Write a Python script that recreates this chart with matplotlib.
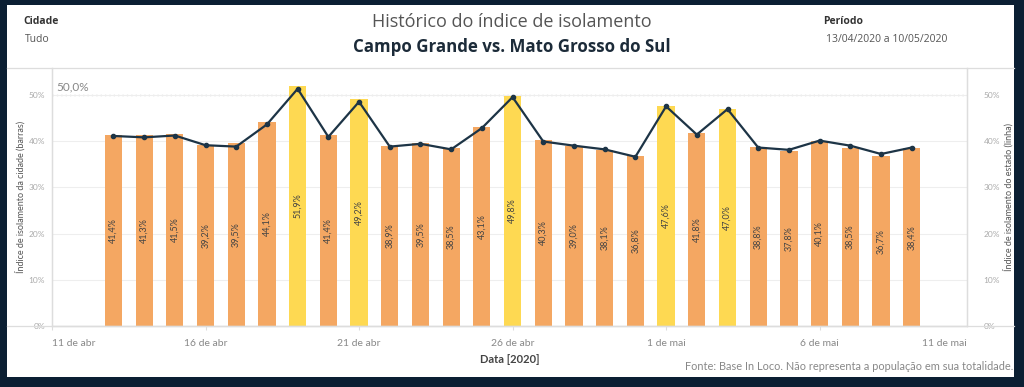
import pandas as pd
import numpy as np
import matplotlib
matplotlib.use("Agg")
import matplotlib.pyplot as plt
from matplotlib.patches import Rectangle
from matplotlib.lines import Line2D

# Isolation index, 13/04/2020 onwards (one value per day)
start_date = "2020-04-13"
city_pct = [41.4, 41.3, 41.5, 39.2, 39.5, 44.1, 51.9, 41.4, 49.2, 38.9, 39.5, 38.5, 43.1, 49.8,
            40.3, 39.0, 38.1, 36.8, 47.6, 41.8, 47.0, 38.8, 37.8, 40.1, 38.5, 36.7, 38.4]
state_pct = [41.1, 40.8, 41.2, 39.1, 38.8, 43.6, 51.3, 40.9, 48.5, 38.8, 39.4, 38.2, 42.8, 49.5,
             39.9, 39.0, 38.2, 36.6, 47.5, 41.4, 46.9, 38.6, 38.1, 40.1, 39.0, 37.2, 38.6]
# Sundays and holidays are highlighted in yellow
highlight = [0, 0, 0, 0, 0, 0, 1, 0, 1, 0, 0, 0, 0, 1, 0, 0, 0, 0, 1, 0, 1, 0, 0, 0, 0, 0, 0]
tick_dates = ["2020-04-11", "2020-04-16", "2020-04-21", "2020-04-26", "2020-05-01", "2020-05-06"]
months_pt = {4: "abr", 5: "mai"}
y_ticks = [0, 10, 20, 30, 40, 50]
ref_level = 50.0

dates = pd.date_range(start_date, periods=len(city_pct))
x = matplotlib.dates.date2num(dates)

orange = "#F4A762"
yellow = "#FED952"
navy = "#1D3446"
plt.rcParams['font.family'] = ['Lato', 'DejaVu Sans']

fig = plt.figure(figsize=(10.24, 3.87), dpi=100)
fig.patch.set_facecolor("#0B1F33")
fig.patches.append(Rectangle((7 / 1024, 1 - 377 / 387), 1007 / 1024, 372 / 387,
                             transform=fig.transFigure, facecolor="white", edgecolor="none", zorder=-5))

ax = fig.add_axes([52 / 1024, 1 - 326 / 387, 915 / 1024, 258 / 387])
ax.set_facecolor("white")
colors = [yellow if h else orange for h in highlight]
ax.bar(x, city_pct, width=0.56, color=colors, zorder=2)
for xi, v in zip(x, city_pct):
    ax.text(xi, v / 2, f"{v:.1f}%".replace(".", ","), rotation=90, ha="center", va="center",
            fontsize=6.5, color="#444444", zorder=3)

ax.set_ylim(0, 55.8)
ax.set_xlim(matplotlib.dates.date2num(pd.Timestamp("2020-04-11")),
            matplotlib.dates.date2num(pd.Timestamp("2020-04-11")) + 29.8)
ax.set_yticks(y_ticks)
ax.set_yticklabels([f"{t}%" for t in y_ticks], fontsize=6, color="#aaaaaa")
ax.grid(axis="y", color="#eeeeee", linewidth=0.8, zorder=0)
ax.axhline(ref_level, color="#aaaaaa", linestyle=(0, (1, 2.5)), linewidth=0.9, zorder=1)
ax.text(0.005, ref_level + 0.6, "50,0%", transform=ax.get_yaxis_transform(), fontsize=8.5,
        color="#888888", va="bottom", ha="left")

tks = matplotlib.dates.date2num(pd.to_datetime(tick_dates))
ax.set_xticks(tks)
lbls = ax.set_xticklabels([f"{d.day} de {months_pt[d.month]}" for d in pd.to_datetime(tick_dates)],
                          fontsize=7.5, color="#888888")
lbls[0].set_ha("left")
ax.tick_params(axis="x", length=3, color="#dddddd", pad=6)
ax.tick_params(axis="y", length=0, pad=5)
# last date label sits at the right edge, as in the original dashboard
ax.annotate("11 de mai", xy=(1.0, 0.0), xycoords="axes fraction", xytext=(0, -9),
            textcoords="offset points", ha="right", va="top", fontsize=7.5, color="#888888")

ax.spines["top"].set_visible(False)
for s in ["left", "right", "bottom"]:
    ax.spines[s].set_color("#dddddd")
    ax.spines[s].set_linewidth(0.9)
ax.set_ylabel("Índice de isolamento da cidade (barras)", fontsize=6.5, color="#555555", labelpad=2)
ax.set_xlabel("Data [2020]", fontsize=8, color="#444444", fontweight="bold", labelpad=5)

ax2 = ax.twinx()
ax2.set_ylim(0, 55.8)
ax2.plot(x, state_pct, color=navy, linewidth=1.6, marker="o", markersize=3, zorder=4)
ax2.set_yticks(y_ticks)
ax2.set_yticklabels([f"{t}%" for t in y_ticks], fontsize=6, color="#aaaaaa")
ax2.tick_params(axis="y", length=0, pad=12)
ax2.spines["top"].set_visible(False)
for s in ["left", "right", "bottom"]:
    ax2.spines[s].set_color("#dddddd")
    ax2.spines[s].set_linewidth(0.9)
ax2.set_ylabel("Índice de isolamento do estado (linha)", fontsize=6.5, color="#555555", labelpad=2)

# frame lines across the whole panel
fig.lines.append(Line2D([7 / 1024, 1014 / 1024], [1 - 68 / 387] * 2, transform=fig.transFigure,
                        color="#dddddd", linewidth=0.9))
fig.lines.append(Line2D([7 / 1024, 1014 / 1024], [1 - 326 / 387] * 2, transform=fig.transFigure,
                        color="#dddddd", linewidth=0.9))

# header
fig.text(0.5, 1 - 22 / 387, "Histórico do índice de isolamento", ha="center", va="center",
         fontsize=13, color="#555555", family="Open Sans")
fig.text(0.5, 1 - 47 / 387, "Campo Grande vs. Mato Grosso do Sul", ha="center", va="center",
         fontsize=12.2, color="#1C2B39", fontweight="bold", family="Open Sans")
fig.text(23 / 1024, 1 - 22 / 387, "Cidade", ha="left", va="center", fontsize=7.5,
         color="#333333", fontweight="bold", family="Open Sans")
fig.text(25 / 1024, 1 - 39 / 387, "Tudo", ha="left", va="center", fontsize=7.5, color="#555555",
         family="Open Sans")
fig.text(823 / 1024, 1 - 22 / 387, "Período", ha="left", va="center", fontsize=7.5,
         color="#333333", fontweight="bold", family="Open Sans")
fig.text(826 / 1024, 1 - 39 / 387, "13/04/2020 a 10/05/2020", ha="left", va="center",
         fontsize=7.5, color="#555555", family="Open Sans")
fig.text(1013 / 1024, 1 - 366 / 387, "Fonte: Base In Loco. Não representa a população em sua totalidade.",
         ha="right", va="center", fontsize=7.9, color="#888888")

fig.savefig("out.png", dpi=100, facecolor=fig.get_facecolor())
